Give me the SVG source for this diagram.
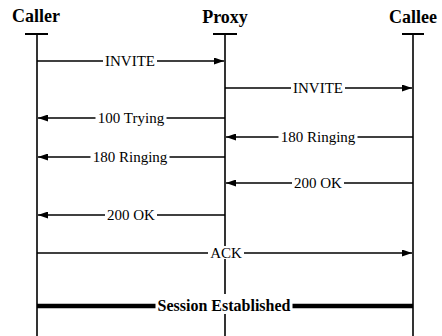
<svg xmlns="http://www.w3.org/2000/svg" width="442" height="336" viewBox="0 0 442 336">
<style>
.hdr{font-family:"Liberation Serif","Times New Roman",serif;font-weight:bold;font-size:18px;fill:#000;text-anchor:middle}
.lbl{font-family:"Liberation Serif","Times New Roman",serif;font-size:15px;fill:#000;text-anchor:middle}
.sess{font-family:"Liberation Serif","Times New Roman",serif;font-weight:bold;font-size:16px;fill:#000;text-anchor:middle}
.bg{fill:#fff;stroke:none}
.life{stroke:#000;stroke-width:1.6;fill:none}
.bar{stroke:#000;stroke-width:2;fill:none}
.msg{stroke:#000;stroke-width:1.3;fill:none;marker-end:url(#ah)}
.thick{stroke:#000;stroke-width:4.5;fill:none}
</style>
<defs>
<marker id="ah" markerWidth="10" markerHeight="7" refX="10" refY="3.5" orient="auto" markerUnits="userSpaceOnUse">
<path d="M0,0 L10,3.5 L0,7 Z" fill="#000"/>
</marker>
</defs>
<rect width="442" height="336" fill="#fff"/>
<g id="caller">
<text class="hdr" x="36" y="22">Caller</text>
<line class="bar" x1="25" y1="34" x2="48" y2="34"/>
<line class="life" x1="37" y1="34" x2="37" y2="336"/>
</g>
<g id="proxy">
<text class="hdr" x="225" y="23">Proxy</text>
<line class="bar" x1="213" y1="34" x2="237" y2="34"/>
<line class="life" x1="225" y1="34" x2="225" y2="336"/>
</g>
<g id="callee">
<text class="hdr" x="413" y="23">Callee</text>
<line class="bar" x1="402" y1="34" x2="424" y2="34"/>
<line class="life" x1="413" y1="34" x2="413" y2="336"/>
</g>
<g id="connectors">
<line class="msg" x1="37" y1="61" x2="224" y2="61"/>
<line class="msg" x1="225" y1="88" x2="412" y2="88"/>
<line class="msg" x1="225" y1="118" x2="38" y2="118"/>
<line class="msg" x1="413" y1="137" x2="226" y2="137"/>
<line class="msg" x1="225" y1="157" x2="38" y2="157"/>
<line class="msg" x1="413" y1="183" x2="226" y2="183"/>
<line class="msg" x1="225" y1="215" x2="38" y2="215"/>
<line class="msg" x1="37" y1="253" x2="412" y2="253"/>
<line class="thick" x1="37" y1="306" x2="413" y2="306"/>
<rect class="bg" x="103" y="55" width="54" height="12"/>
<text class="lbl" x="130" y="66">INVITE</text>
<rect class="bg" x="291" y="82" width="54" height="12"/>
<text class="lbl" x="318" y="93">INVITE</text>
<rect class="bg" x="95.5" y="112" width="71" height="12"/>
<text class="lbl" x="131" y="123">100 Trying</text>
<rect class="bg" x="278.5" y="131" width="79" height="12"/>
<text class="lbl" x="318" y="142">180 Ringing</text>
<rect class="bg" x="90.5" y="151" width="79" height="12"/>
<text class="lbl" x="130" y="162">180 Ringing</text>
<rect class="bg" x="292" y="177" width="52" height="12"/>
<text class="lbl" x="318" y="188">200 OK</text>
<rect class="bg" x="105" y="209" width="52" height="12"/>
<text class="lbl" x="131" y="220">200 OK</text>
<rect class="bg" x="208" y="246" width="36" height="13"/>
<text class="lbl" x="226" y="258">ACK</text>
<rect class="bg" x="155.5" y="294" width="137" height="20"/>
<text class="sess" x="224" y="311">Session Established</text>
</g>
</svg>
